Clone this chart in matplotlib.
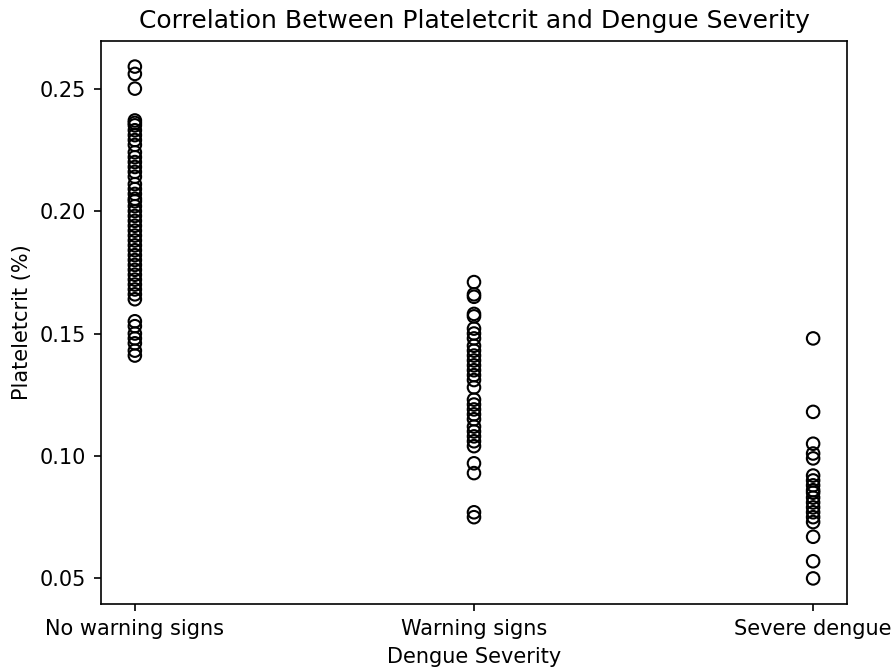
import matplotlib
matplotlib.use("Agg")
import matplotlib.pyplot as plt

categories = ["No warning signs", "Warning signs", "Severe dengue"]

# plateletcrit values, per severity group
no_warning = [0.259, 0.256, 0.250, 0.237, 0.236, 0.235, 0.233, 0.231, 0.229, 0.227,
              0.224, 0.222, 0.220, 0.218, 0.216, 0.214, 0.211, 0.209, 0.207, 0.205,
              0.204, 0.202, 0.200, 0.198, 0.196, 0.194, 0.192, 0.190, 0.188, 0.186,
              0.184, 0.182, 0.180, 0.178, 0.176, 0.174, 0.172, 0.170, 0.168, 0.166,
              0.164, 0.155, 0.153, 0.150, 0.148, 0.146, 0.143, 0.141]
warning = [0.171, 0.166, 0.165, 0.158, 0.157, 0.152, 0.150, 0.148, 0.145, 0.143,
           0.141, 0.139, 0.137, 0.135, 0.133, 0.131, 0.128, 0.123, 0.121, 0.119,
           0.117, 0.115, 0.112, 0.110, 0.108, 0.106, 0.104, 0.097, 0.093, 0.077, 0.075]
severe = [0.148, 0.118, 0.105, 0.101, 0.099, 0.092, 0.090, 0.088, 0.086, 0.085,
          0.083, 0.081, 0.079, 0.077, 0.075, 0.073, 0.067, 0.057, 0.050]

groups = [no_warning, warning, severe]

fig, ax = plt.subplots(figsize=(895 / 150, 672 / 150), dpi=150)
fig.subplots_adjust(left=0.1128, right=0.9464, top=0.939, bottom=0.1012)

xs = []
ys = []
for cat, vals in zip(categories, groups):
    xs += [cat] * len(vals)
    ys += vals

ax.scatter(xs, ys, facecolors='none', edgecolors='black')
ax.set_title('Correlation Between Plateletcrit and Dengue Severity')
ax.set_xlabel('Dengue Severity')
ax.set_ylabel('Plateletcrit (%)')

plt.savefig('out.png')
